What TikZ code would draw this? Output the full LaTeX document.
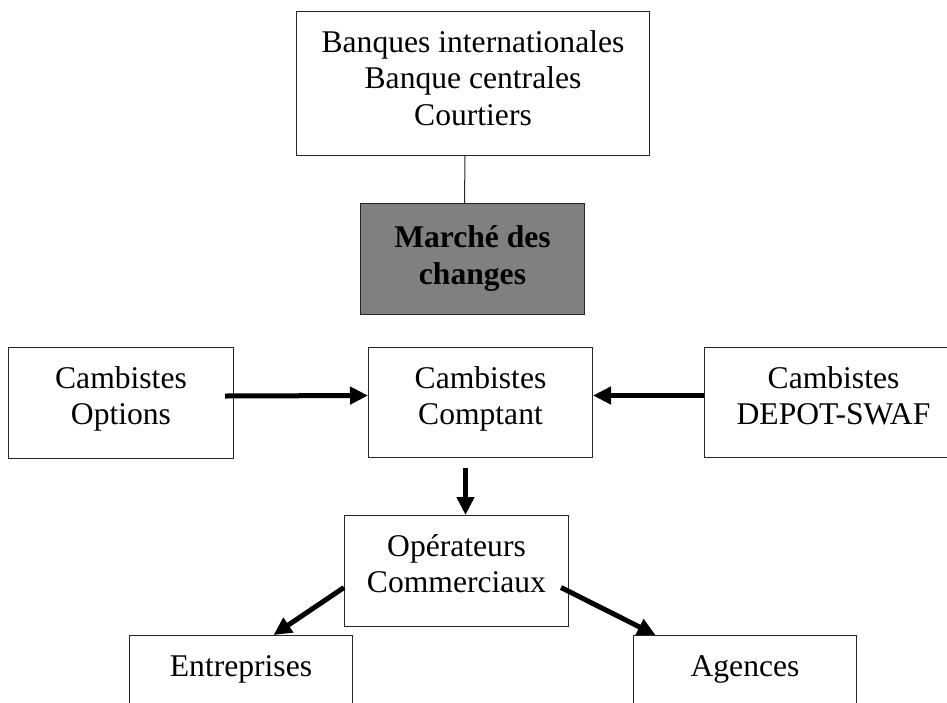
\documentclass[tikz,border=0pt]{standalone}
\usepackage{fontspec}
\setmainfont{Liberation Serif}
\usetikzlibrary{arrows.meta}
\definecolor{boxgray}{RGB}{128,128,128}
\begin{document}
\begin{tikzpicture}[x=1pt,y=-1pt,
  box/.style={draw=black!85, line width=1pt, fill=white, inner sep=0pt, anchor=north west},
  txt/.style={font=\fontsize{31.6}{36.5}\selectfont, align=center, anchor=north, inner sep=0pt},
  arr/.style={line width=5pt, -{Triangle[length=18pt,width=17pt]}}]
\useasboundingbox (0,0) rectangle (947,702);
\clip (0,0) rectangle (947,702);
% boxes
\node[box, minimum width=353pt, minimum height=144pt] (top) at (296,11) {};
\node[box, fill=boxgray, minimum width=224pt, minimum height=111pt] (gray) at (360,203) {};
\node[box, minimum width=225pt, minimum height=111pt] (left) at (8,347) {};
\node[box, minimum width=224pt, minimum height=110pt] (mid) at (368,347) {};
\node[box, minimum width=260pt, minimum height=110pt] (right) at (704,347) {};
\node[box, minimum width=224pt, minimum height=111pt] (oper) at (344,515) {};
\node[box, minimum width=223pt, minimum height=100pt] (ent) at (129,635) {};
\node[box, minimum width=223pt, minimum height=100pt] (age) at (633,635) {};
% texts
\node[txt] (ttop) at ([yshift=-15.5pt]top.north) {\strut Banques internationales\\Banque centrales\\Courtiers};
\node[txt, font=\fontsize{31.6}{36.5}\selectfont\bfseries] (tgray) at ([yshift=-19pt]gray.north) {\strut Marché des\\changes};
\node[txt] (tleft) at ([yshift=-15.5pt]left.north) {\strut Cambistes\\Options};
\node[txt] (tmid) at ([yshift=-15.5pt]mid.north) {\strut Cambistes\\Comptant};
\node[txt] (tright) at ([xshift=-1pt,yshift=-15.5pt]right.north) {\strut Cambistes\\DEPOT-SWAF};
\node[txt] (toper) at ([yshift=-15.5pt]oper.north) {\strut Opérateurs\\Commerciaux};
\node[txt] (tent) at ([yshift=-15.5pt]ent.north) {\strut Entreprises};
\node[txt] (tage) at ([yshift=-15.5pt]age.north) {\strut Agences};
% connectors
\draw[line width=1pt, black!85] ([xshift=-8pt]top.south) -- ([xshift=-8pt]gray.north);
\draw[arr] ([xshift=-9pt,yshift=7pt]left.east) -- ([yshift=7pt]mid.west);
\draw[arr] ([yshift=7pt]right.west) -- ([yshift=7pt]mid.east);
\draw[arr] ([xshift=-15pt,yshift=-10pt]mid.south) -- ([xshift=9pt]oper.north);
\draw[arr] ([yshift=-16.5pt]oper.west) -- ([xshift=32.5pt]ent.north);
\draw[arr] ([xshift=-8pt,yshift=-16.5pt]oper.east) -- ([xshift=-89.5pt]age.north);
\end{tikzpicture}
\end{document}
